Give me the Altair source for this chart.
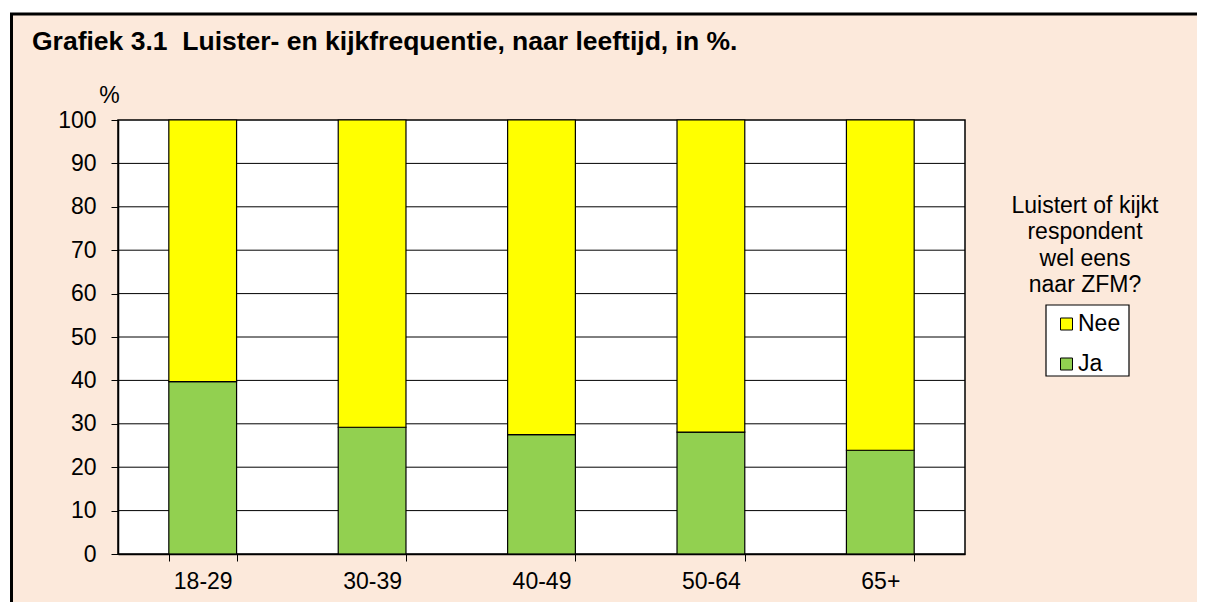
import altair as alt
import pandas as pd

FONT = "Liberation Sans"

ages = ["18-29", "30-39", "40-49", "50-64", "65+"]
ja = [39.7, 29.2, 27.5, 28.1, 23.9]
nee = [60.3, 70.8, 72.5, 71.9, 76.1]
answers = ["Nee", "Ja"]
answer_colors = ["#FFFF00", "#92D050"]
y_ticks = [0, 10, 20, 30, 40, 50, 60, 70, 80, 90, 100]
grid_ticks = [10, 20, 30, 40, 50, 60, 70, 80, 90]
title_text = "Grafiek 3.1\u00a0 Luister- en kijkfrequentie, naar leeftijd, in %."
legend_question = ["Luistert of kijkt", "respondent", "wel eens", "naar ZFM?"]
y_title = "%"

W, H = 847, 434
PEACH = "#FCE9DB"
FS = 23

rows = []
for i, a in enumerate(ages):
    rows.append({"age": a, "answer": "Ja", "value": ja[i], "order": 0})
    rows.append({"age": a, "answer": "Nee", "value": nee[i], "order": 1})
bars_df = pd.DataFrame(rows)
grid_df = pd.DataFrame({"value": grid_ticks})
one = pd.DataFrame({"k": [0]})

yscale = alt.Scale(domain=[0, 100], nice=False, zero=True)
yaxis = alt.Axis(
    title=y_title, titleAngle=0, titleFontSize=FS, titleFont=FONT, titleFontWeight="normal",
    titleColor="black", titleX=-9, titleY=-18, titleAlign="center", titleBaseline="alphabetic",
    values=y_ticks, labelFontSize=FS, labelFont=FONT, labelColor="black", labelPadding=15,
    tickSize=7, tickColor="black", tickWidth=1, domainColor="black", domainWidth=1.5,
    grid=False, zindex=1,
)
xaxis = alt.Axis(
    title=None, labelFontSize=FS, labelFont=FONT, labelColor="black", labelPadding=9,
    labelAngle=0, tickSize=7, tickColor="black", tickWidth=1, domainColor="black",
    domainWidth=1.5, tickBand="extent", grid=False, zindex=1,
)
legend = alt.Legend(
    title=None, orient="none", legendX=937, legendY=192.5, padding=0,
    symbolType="square", symbolSize=144,
    symbolStrokeColor="black", symbolStrokeWidth=1, symbolOpacity=1,
    labelFontSize=FS, labelFont=FONT, labelColor="black", labelOffset=0, rowPadding=16,
)

frame = alt.Chart(one).mark_rect(fill=PEACH, stroke="black", strokeWidth=3).encode(
    x=alt.value(-106.5), x2=alt.value(1200), y=alt.value(-106), y2=alt.value(600)
)
plotbg = alt.Chart(one).mark_rect(fill="white", stroke="black", strokeWidth=1.5).encode(
    x=alt.value(0), x2=alt.value(W), y=alt.value(0), y2=alt.value(H)
)
legend_box = alt.Chart(one).mark_rect(fill="white", stroke="black", strokeWidth=1.2).encode(
    x=alt.value(928), x2=alt.value(1011), y=alt.value(185), y2=alt.value(256)
)
grid = alt.Chart(grid_df).mark_rule(color="black", strokeWidth=1).encode(
    y=alt.Y("value:Q", scale=yscale, axis=yaxis)
)
bars = alt.Chart(bars_df).mark_bar(stroke="black", strokeWidth=1.2, opacity=1).encode(
    x=alt.X("age:N", sort=ages, scale=alt.Scale(paddingInner=0.6, paddingOuter=0.3), axis=xaxis),
    y=alt.Y("value:Q", stack="zero", scale=yscale, axis=yaxis),
    color=alt.Color("answer:N", scale=alt.Scale(domain=answers, range=answer_colors), legend=legend),
    order=alt.Order("order:Q", sort="ascending"),
)
title_mark = alt.Chart(one).mark_text(
    text=title_text, font=FONT, fontSize=26.5, fontWeight="bold", align="left",
    baseline="alphabetic", color="black",
).encode(x=alt.value(-86), y=alt.value(-70))
question = alt.Chart(one).mark_text(
    text="\n".join(legend_question), lineBreak="\n", lineHeight=26.4, font=FONT,
    fontSize=FS, align="center", baseline="alphabetic", color="black",
).encode(x=alt.value(967), y=alt.value(93))

chart = alt.layer(frame, plotbg, legend_box, grid, bars, title_mark, question).properties(
    width=W, height=H,
    autosize=alt.AutoSizeParams(type="none"),
    padding={"left": 110, "top": 112, "right": 232, "bottom": 48},
).configure(background="white", font=FONT).configure_view(strokeWidth=0)

chart.save("out.html", embed_options={"renderer": "svg", "actions": False})
